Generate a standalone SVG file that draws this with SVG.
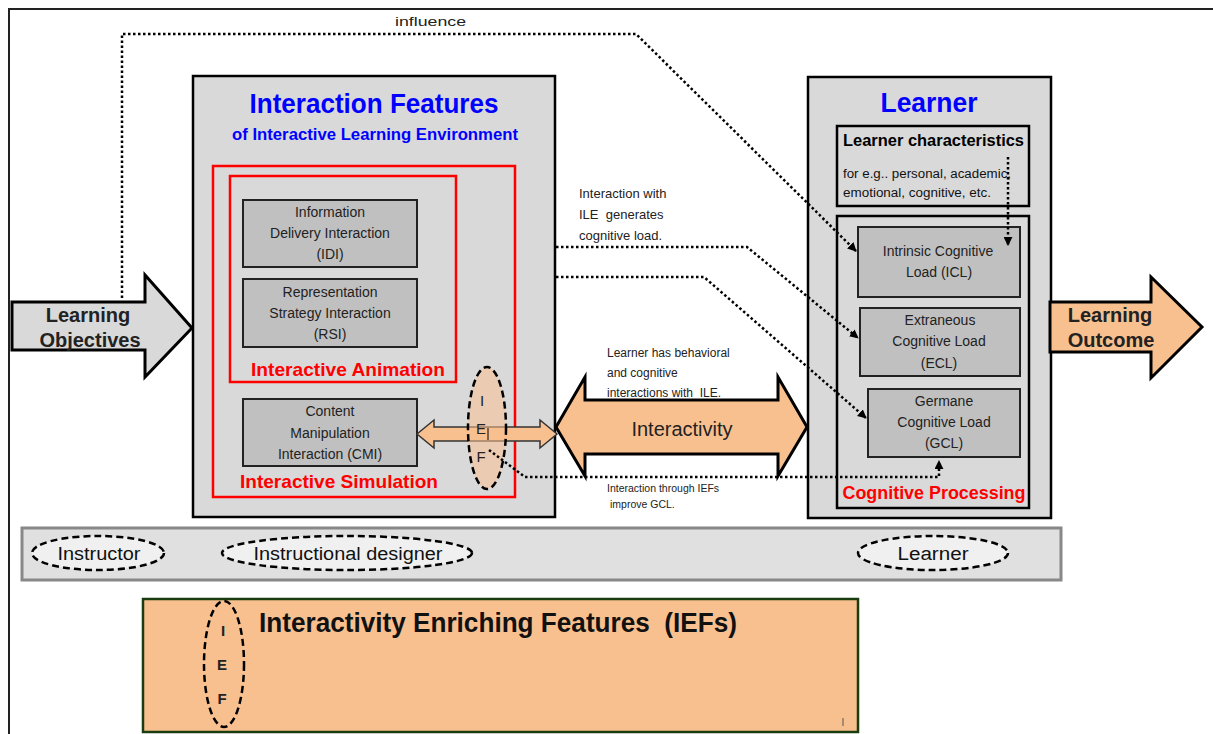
<svg xmlns="http://www.w3.org/2000/svg" width="1213" height="734" viewBox="0 0 1213 734">
<defs>
<marker id="ah" viewBox="0 0 10 10" refX="9" refY="5" markerWidth="9" markerHeight="9" markerUnits="userSpaceOnUse" orient="auto">
<path d="M0,0 L10,5 L0,10 z" fill="#000"/>
</marker>
<style>
.t{font-family:"Liberation Sans Narrow","Liberation Sans",Arial,sans-serif;}
.c{font-family:"Liberation Sans",Arial,sans-serif;fill:#222;}
.blue{fill:#0000ff;font-weight:bold;}
.red{fill:#ff0000;font-weight:bold;}
.box{fill:#c0c0c0;stroke:#222;stroke-width:2;}
.panel{fill:#d9d9d9;stroke:#000;stroke-width:2.5;}
.redr{fill:none;stroke:#ff0000;stroke-width:2.5;}
.dot{fill:none;stroke:#000;stroke-width:2.5;stroke-dasharray:2.5 2.5;}
.dash{stroke:#000;stroke-width:2.5;stroke-dasharray:7 4;}
.peach{fill:#f9c08f;}
</style>
</defs>
<rect width="1213" height="734" fill="#fff"/>
<rect x="9" y="9" width="1220" height="740" fill="none" stroke="#222" stroke-width="2"/>

<g id="interaction-features">
<rect class="panel" x="193" y="76" width="362" height="441"/>
<text class="t blue" x="374" y="113" font-size="28" text-anchor="middle" textLength="249" lengthAdjust="spacingAndGlyphs">Interaction Features</text>
<text class="t blue" x="375" y="140" font-size="17" text-anchor="middle" textLength="286" lengthAdjust="spacingAndGlyphs">of Interactive Learning Environment</text>
<rect class="redr" x="213" y="166" width="302" height="331"/>
<rect class="redr" x="230" y="176" width="226" height="206"/>
<text class="t red" x="348" y="376" font-size="19" text-anchor="middle" textLength="194" lengthAdjust="spacingAndGlyphs">Interactive  Animation</text>
<text class="t red" x="339" y="488" font-size="19" text-anchor="middle" textLength="198" lengthAdjust="spacingAndGlyphs">Interactive  Simulation</text>
</g>

<g id="idi">
<rect class="box" x="243" y="200" width="174" height="67"/>
<text class="c" font-size="14" text-anchor="middle"><tspan x="330" y="217">Information</tspan><tspan x="330" y="238">Delivery Interaction</tspan><tspan x="330" y="259">(IDI)</tspan></text>
</g>
<g id="rsi">
<rect class="box" x="243" y="279" width="174" height="68"/>
<text class="c" font-size="14" text-anchor="middle"><tspan x="330" y="297">Representation</tspan><tspan x="330" y="318">Strategy Interaction</tspan><tspan x="330" y="339">(RSI)</tspan></text>
</g>
<g id="cmi">
<rect class="box" x="243" y="399" width="174" height="67"/>
<text class="c" font-size="14" text-anchor="middle"><tspan x="330" y="416">Content</tspan><tspan x="330" y="438">Manipulation</tspan><tspan x="330" y="459">Interaction (CMI)</tspan></text>
</g>

<g id="learner">
<rect class="panel" x="808" y="77" width="243" height="441"/>
<text class="t blue" x="929" y="112" font-size="28" text-anchor="middle" textLength="97" lengthAdjust="spacingAndGlyphs">Learner</text>
</g>
<g id="learner-characteristics">
<rect fill="#d9d9d9" stroke="#000" stroke-width="2.5" x="837" y="126" width="192" height="80"/>
<text class="t" x="843" y="146" font-size="16" font-weight="bold" fill="#000" textLength="181" lengthAdjust="spacingAndGlyphs">Learner characteristics</text>
<text class="t" x="843" y="178" font-size="12" fill="#111" textLength="168" lengthAdjust="spacingAndGlyphs">for e.g.. personal, academic,</text>
<text class="t" x="843" y="197" font-size="12" fill="#111" textLength="148" lengthAdjust="spacingAndGlyphs">emotional, cognitive, etc.</text>
</g>
<g id="cognitive-processing">
<rect fill="#d9d9d9" stroke="#000" stroke-width="2.5" x="837" y="216" width="192" height="292"/>
<text class="t red" x="934" y="499" font-size="19" text-anchor="middle" textLength="183" lengthAdjust="spacingAndGlyphs">Cognitive Processing</text>
</g>
<g id="icl">
<rect class="box" x="858" y="227" width="162" height="70"/>
<text class="c" font-size="14" text-anchor="middle"><tspan x="938" y="256">Intrinsic Cognitive</tspan><tspan x="939" y="277">Load (ICL)</tspan></text>
</g>
<g id="ecl">
<rect class="box" x="860" y="308" width="160" height="68"/>
<text class="c" font-size="14" text-anchor="middle"><tspan x="940" y="325">Extraneous</tspan><tspan x="939" y="346">Cognitive Load</tspan><tspan x="939" y="368">(ECL)</tspan></text>
</g>
<g id="gcl">
<rect class="box" x="868" y="389" width="152" height="68"/>
<text class="c" font-size="14" text-anchor="middle"><tspan x="944" y="406">Germane</tspan><tspan x="944" y="427">Cognitive Load</tspan><tspan x="944" y="448">(GCL)</tspan></text>
</g>

<g id="learning-objectives">
<path d="M12,302 L145,302 L145,275 L192,328 L145,377 L145,350 L12,350 Z" fill="#d9d9d9" stroke="#000" stroke-width="3"/>
<text class="c" font-size="20" font-weight="bold" text-anchor="middle" fill="#111"><tspan x="88" y="322">Learning</tspan><tspan x="90" y="347">Objectives</tspan></text>
</g>
<g id="learning-outcome">
<path d="M1050,302 L1151,302 L1151,277 L1202,327 L1151,378 L1151,352 L1050,352 Z" class="peach" stroke="#000" stroke-width="3"/>
<text class="c" font-size="20" font-weight="bold" text-anchor="middle" fill="#111"><tspan x="1110" y="322">Learning</tspan><tspan x="1111" y="347">Outcome</tspan></text>
</g>

<g id="interactivity">
<path d="M556,427 L585,377 L585,400 L778,400 L778,377 L807,427 L778,476 L778,454 L585,454 L585,476 Z" class="peach" stroke="#000" stroke-width="3"/>
<text class="c" x="682" y="436" font-size="20" text-anchor="middle" fill="#222">Interactivity</text>
</g>

<g id="cmi-arrow">
<path d="M417,434 L434,420 L434,427 L540,427 L540,420 L557,434 L540,448 L540,441 L434,441 L434,448 Z" class="peach" stroke="#333" stroke-width="1.5"/>
</g>
<g id="ief-ellipse">
<ellipse cx="487" cy="428" rx="19" ry="61" fill="#f9c08f" fill-opacity="0.55" class="dash" stroke="#000"/>
<text class="c" font-size="15" text-anchor="middle"><tspan x="482" y="406">I</tspan><tspan x="481" y="434">E</tspan><tspan x="481" y="462">F</tspan></text>
<line x1="488" y1="428" x2="488" y2="440" stroke="#000" stroke-width="1"/>
</g>

<g id="labels">
<text class="c" x="395" y="26" font-size="13" fill="#222" textLength="71" lengthAdjust="spacingAndGlyphs">influence</text>
<text class="c" font-size="13" fill="#222"><tspan x="579" y="198">Interaction with</tspan><tspan x="579" y="219" xml:space="preserve">ILE  generates</tspan><tspan x="579" y="240">cognitive load.</tspan></text>
<text class="c" font-size="12" fill="#222"><tspan x="607" y="357">Learner has behavioral</tspan><tspan x="607" y="377">and cognitive</tspan><tspan x="607" y="397" xml:space="preserve">interactions with  ILE.</tspan></text>
<text class="c" font-size="10.5" fill="#222"><tspan x="607" y="492">Interaction through IEFs</tspan><tspan x="610" y="508">improve GCL.</tspan></text>
</g>

<g id="connectors">
<path class="dot" d="M122,298 L122,34 L636,34 L856,251" marker-end="url(#ah)"/>
<path class="dot" d="M556,247 L747,247 L858,338" marker-end="url(#ah)"/>
<path class="dot" d="M556,277 L704,277 L866,418" marker-end="url(#ah)"/>
<path class="dot" d="M1008,157 L1008,245" marker-end="url(#ah)"/>
<path class="dot" d="M489,450 L525,477 L939,477 L939,461" marker-end="url(#ah)"/>
</g>

<g id="roles">
<rect x="22" y="528" width="1039" height="52" fill="#e0e0e0" stroke="#888" stroke-width="3"/>
<ellipse cx="98" cy="553" rx="66" ry="17" fill="#f0f0f0" class="dash"/>
<text class="t" x="99" y="560" font-size="18" text-anchor="middle" fill="#111" textLength="83" lengthAdjust="spacingAndGlyphs">Instructor</text>
<ellipse cx="347" cy="553" rx="125" ry="17" fill="#f0f0f0" class="dash"/>
<text class="t" x="348" y="560" font-size="18" text-anchor="middle" fill="#111" textLength="189" lengthAdjust="spacingAndGlyphs">Instructional designer</text>
<ellipse cx="933" cy="553" rx="75" ry="17" fill="#f0f0f0" class="dash"/>
<text class="t" x="933" y="560" font-size="18" text-anchor="middle" fill="#111" textLength="71" lengthAdjust="spacingAndGlyphs">Learner</text>
</g>

<g id="ief-box">
<rect x="143" y="599" width="715" height="133" class="peach" stroke="#1a3d10" stroke-width="2.5"/>
<ellipse cx="224" cy="664" rx="20" ry="63" fill="none" class="dash"/>
<text class="c" font-size="15" font-weight="bold" text-anchor="middle" fill="#111"><tspan x="223" y="636">I</tspan><tspan x="222" y="670">E</tspan><tspan x="222" y="704">F</tspan></text>
<text class="t" x="259" y="632" font-size="27" font-weight="bold" fill="#111" textLength="478" lengthAdjust="spacingAndGlyphs" xml:space="preserve">Interactivity Enriching Features  (IEFs)</text>
<line x1="843" y1="718" x2="843" y2="726" stroke="#555" stroke-width="1"/>
</g>
</svg>
